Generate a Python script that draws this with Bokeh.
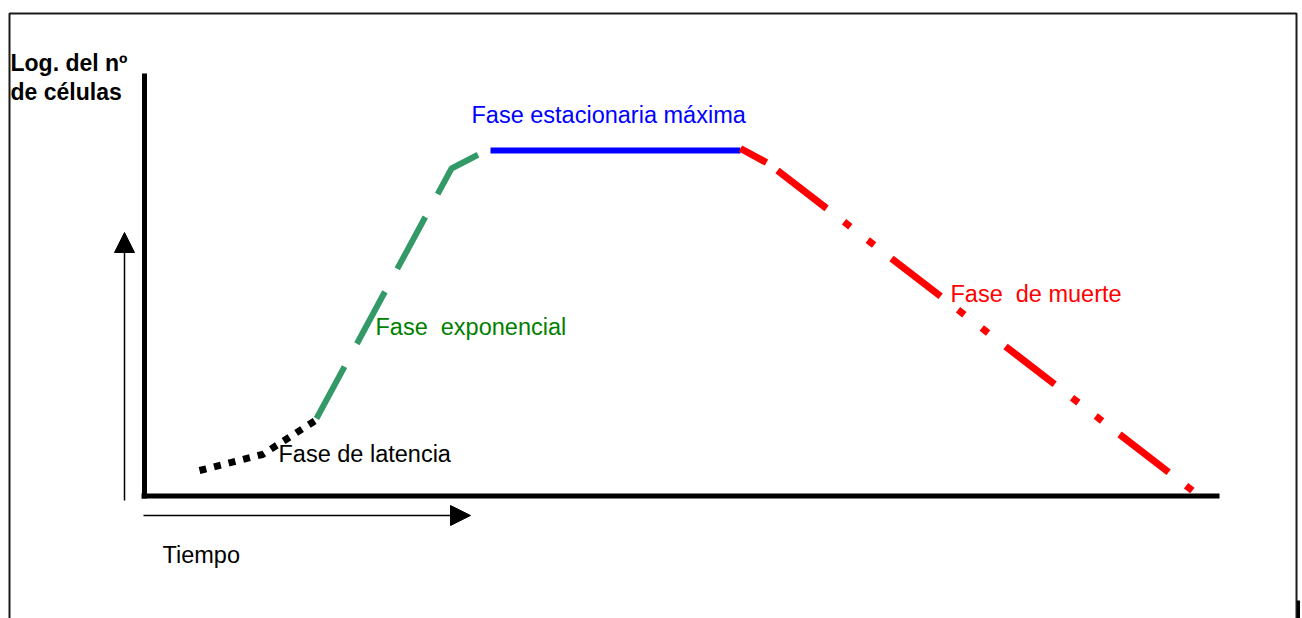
from bokeh.plotting import figure
from bokeh.models import Range1d, Arrow, NormalHead
from bokeh.core.properties import value
from bokeh.embed import file_html
from bokeh.resources import INLINE

# ---- data (time vs. log of cell number, origin at the axes corner) ----
lag_time = [55, 118, 174]
lag_logn = [25.5, 41.5, 77.5]

exp_time = [172, 307, 334]
exp_logn = [77.5, 327.5, 341.5]

stat_time = [346, 596]
stat_logn = [345.5, 345.5]

death_head_time = [596, 622]
death_head_logn = [347.5, 333.5]

death_time = [633, 1053]
death_logn = [325.5, 1.5]

labels = ["Fase de latencia", "Fase \u00a0exponencial", "Fase estacionaria máxima", "Fase \u00a0de muerte"]
label_time = [134, 231, 327, 806]
label_logn = [42, 169, 381, 202]
label_colors = ["black", "#008000", "#0000FF", "#FF0000"]

W, H = 1302, 618
X0, Y0 = 144, 495.5   # screen position of origin


def sx(v):
    return v - X0


def sy(v):
    return Y0 - v


p = figure(width=W, height=H, output_backend="svg", toolbar_location=None,
           x_axis_type=None, y_axis_type=None, min_border=0,
           x_range=Range1d(0 - X0, W - X0), y_range=Range1d(Y0 - H, Y0))
p.grid.visible = False
p.outline_line_color = None
p.background_fill_color = "white"
p.border_fill_color = "white"

# outer frame
p.line([sx(9), sx(9), sx(1296), sx(1296)], [sy(618), sy(13), sy(13), sy(618)],
       line_color="#1a1a1a", line_width=2)
p.line([sx(1298), sx(1298)], [sy(600), sy(618)], line_color="black", line_width=3)

# thick axes
p.line([sx(144), sx(144)], [sy(73), sy(498)], line_color="black", line_width=5)
p.line([sx(141), sx(1219)], [sy(495.5), sy(495.5)], line_color="black", line_width=5)

# arrows
p.add_layout(Arrow(end=NormalHead(size=20, fill_color="black", line_color="black", line_width=1),
                   x_start=sx(124), y_start=sy(500), x_end=sx(124), y_end=sy(232),
                   line_color="black", line_width=1.5))
p.add_layout(Arrow(end=NormalHead(size=20, fill_color="black", line_color="black", line_width=1),
                   x_start=sx(143), y_start=sy(515), x_end=sx(470), y_end=sy(515),
                   line_color="black", line_width=1.5))

# curve
p.line(lag_time, lag_logn, line_color="black", line_width=7, line_dash="7 8")
p.line(exp_time, exp_logn, line_color="#339966", line_width=6, line_dash="59 26")
p.line(stat_time, stat_logn, line_color="#0000FF", line_width=6)
p.line(death_head_time, death_head_logn, line_color="#FF0000", line_width=7)
p.line(death_time, death_logn, line_color="#FF0000", line_width=7, line_dash="62 22 8 22 8 22")

# phase labels
p.text(x=label_time, y=label_logn, text=labels, text_color=label_colors,
       text_font=value("Liberation Sans"), text_font_size="23.5px",
       text_baseline="alphabetic", text_align="left")

# axis captions
p.text(x=[sx(10), sx(10)], y=[sy(62), sy(91)], text=["Log. del nº", "de células"],
       text_color="black", text_font=value("Liberation Sans"), text_font_size="23px",
       text_font_style="bold", text_baseline="alphabetic", text_align="left")
p.text(x=[sx(162)], y=[sy(554)], text=["Tiempo"], text_color="black",
       text_font=value("Liberation Sans"), text_font_size="23.5px",
       text_baseline="alphabetic", text_align="left")

open("out.html", "w").write(file_html(p, INLINE))
